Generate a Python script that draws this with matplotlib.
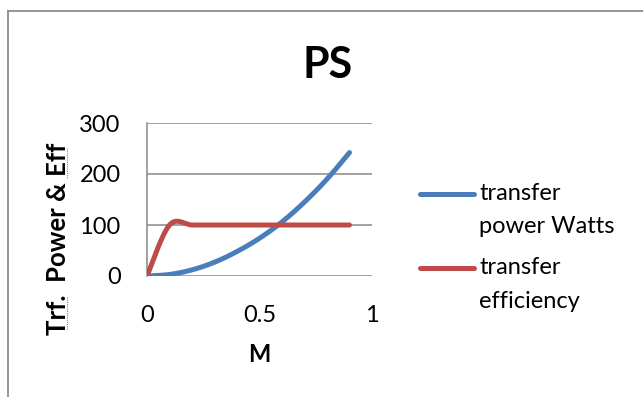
import numpy as np
import matplotlib
matplotlib.use("Agg")
import matplotlib.pyplot as plt
from matplotlib.lines import Line2D
from matplotlib.legend_handler import HandlerLine2D

plt.rcParams['font.family'] = ['Lato', 'DejaVu Sans']

# ---- data ----
m_values = [0.0, 0.1, 0.2, 0.3, 0.4, 0.5, 0.6, 0.7, 0.8, 0.9]
transfer_power = [0, 3, 12, 27, 48, 74, 106, 145, 190, 242]
transfer_eff = [0, 100, 100, 100, 100, 100, 100, 100, 100, 100]
x_ticks = [0, 0.5, 1]
x_tick_labels = ["0", "0.5", "1"]
y_ticks = [0, 100, 200, 300]
y_tick_labels = ["0", "100", "200", "300"]

BLUE = "#4a7ebb"
RED = "#be4b48"
GRID = "#878787"


def smooth_path(xs, ys, steps=30):
    """Cubic Bezier smoothing through the points (spreadsheet-style smoothed line)."""
    xs = np.asarray(xs, float)
    ys = np.asarray(ys, float)
    n = len(xs)
    out_x, out_y = [xs[0]], [ys[0]]
    t = np.linspace(0, 1, steps)[1:]
    for i in range(n - 1):
        i0 = max(i - 1, 0)
        i3 = min(i + 2, n - 1)
        p0 = np.array([xs[i], ys[i]])
        p3 = np.array([xs[i + 1], ys[i + 1]])
        c1 = p0 + (np.array([xs[i + 1], ys[i + 1]]) - np.array([xs[i0], ys[i0]])) / 6.0
        c2 = p3 - (np.array([xs[i3], ys[i3]]) - np.array([xs[i], ys[i]])) / 6.0
        b = ((1 - t) ** 3)[:, None] * p0 + (3 * (1 - t) ** 2 * t)[:, None] * c1 \
            + (3 * (1 - t) * t ** 2)[:, None] * c2 + (t ** 3)[:, None] * p3
        out_x.extend(b[:, 0])
        out_y.extend(b[:, 1])
    return np.array(out_x), np.array(out_y)


class RaisedLineHandler(HandlerLine2D):
    """Legend line drawn level with the first line of a two-line label."""
    def __init__(self, raise_pts=12.0, **kw):
        super().__init__(**kw)
        self.raise_pts = raise_pts

    def create_artists(self, legend, orig_handle, xdescent, ydescent,
                       width, height, fontsize, trans):
        artists = super().create_artists(legend, orig_handle, xdescent, ydescent,
                                         width, height, fontsize, trans)
        for a in artists:
            a.set_ydata(np.asarray(a.get_ydata()) + self.raise_pts)
        return artists


W, H = 643, 397
fig = plt.figure(figsize=(W / 100, H / 100), dpi=100)
fig.patch.set_facecolor("white")

# chart-area frame (left and top edges visible)
fig.add_artist(Line2D([7.5 / W, 7.5 / W], [0, 1 - 11 / H], color="#8c8c8c",
                      lw=1.3, transform=fig.transFigure))
fig.add_artist(Line2D([7.5 / W, 1], [1 - 11 / H, 1 - 11 / H], color="#8c8c8c",
                      lw=1.3, transform=fig.transFigure))

ax = fig.add_axes([147 / W, 1 - 276 / H, (372 - 147) / W, (276 - 123) / H])
ax.set_xlim(0, 1)
ax.set_ylim(0, 300)

px, py = smooth_path(m_values, transfer_power)
ex, ey = smooth_path(m_values, transfer_eff)
ax.plot(px, py, color=BLUE, lw=3.6, solid_capstyle="round",
        label="transfer\npower Watts", zorder=3)
ax.plot(ex, ey, color=RED, lw=3.6, solid_capstyle="round",
        label="transfer\nefficiency", zorder=4)

for sp in ["top", "right", "bottom"]:
    ax.spines[sp].set_visible(False)
ax.spines["left"].set_color(GRID)
ax.spines["left"].set_linewidth(1.1)
ax.set_yticks(y_ticks, y_tick_labels)
ax.set_xticks(x_ticks, x_tick_labels)
ax.yaxis.grid(True, color=GRID, lw=1.1)
ax.set_axisbelow(True)
ax.tick_params(axis="both", length=0, labelsize=17, colors="black")
ax.tick_params(axis="y", pad=19)
ax.tick_params(axis="x", pad=21)
ax.patch.set_visible(False)

ax.set_xlabel("M", fontsize=17, fontweight="bold")
ax.xaxis.set_label_coords(259 / W, 1 - 343 / H, transform=fig.transFigure)
ax.set_ylabel("Trf.  Power & Eff", fontsize=18.5, fontweight="bold")
ax.yaxis.set_label_coords(70 / W, 1 - 239 / H, transform=fig.transFigure)

# proofing underline marks beside "Eff" and "Trf."
for y0, y1 in [(148, 178), (297, 330)]:
    fig.add_artist(Line2D([67 / W, 67 / W], [1 - y0 / H, 1 - y1 / H], color="#e06060",
                          lw=0.8, ls=(0, (1, 1)), transform=fig.transFigure))

fig.text(328 / W, 1 - 78 / H, "PS", ha="center", va="baseline",
         fontsize=31, fontweight="bold")

handles, labels = ax.get_legend_handles_labels()
leg = ax.legend(handles, labels, loc="upper left",
                bbox_to_anchor=(420 / W, 1 - 183 / H), bbox_transform=fig.transFigure,
                frameon=False, fontsize=17, handlelength=2.3, handletextpad=0.2,
                borderpad=0, borderaxespad=0, labelspacing=0.85,
                handler_map={Line2D: RaisedLineHandler()})
for t in leg.get_texts():
    t.set_linespacing(1.72)

fig.savefig("out.png", dpi=100)
